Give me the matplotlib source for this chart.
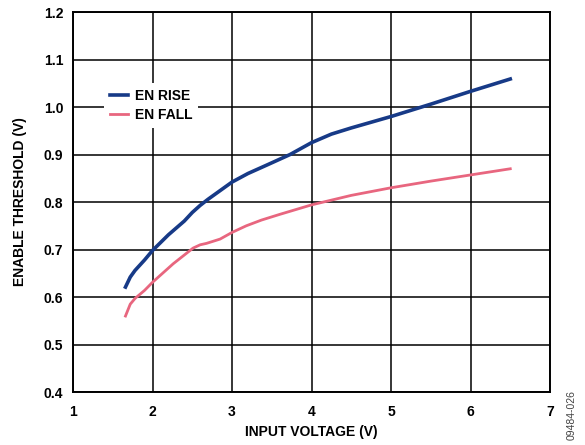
import matplotlib
matplotlib.use("Agg")
import matplotlib.pyplot as plt

plt.rcParams['font.family'] = ['Liberation Sans', 'DejaVu Sans']
plt.rcParams['font.weight'] = 'bold'

# EN RISE / EN FALL threshold vs input voltage
rise_v = [1.66, 1.72, 1.78, 1.9, 2.0, 2.2, 2.4, 2.5, 2.6, 2.7, 2.8, 3.0, 3.2, 3.44, 3.73, 4.0, 4.25, 4.5, 4.75, 5.0, 5.5, 6.0, 6.5]
rise_th = [0.621, 0.642, 0.656, 0.678, 0.698, 0.731, 0.760, 0.778, 0.793, 0.806, 0.818, 0.842, 0.860, 0.878, 0.900, 0.925, 0.943, 0.956, 0.968, 0.980, 1.006, 1.033, 1.059]
fall_v = [1.66, 1.72, 1.78, 1.9, 2.0, 2.26, 2.51, 2.6, 2.68, 2.85, 3.0, 3.18, 3.37, 3.6, 3.86, 4.0, 4.5, 5.0, 5.5, 6.0, 6.5]
fall_th = [0.560, 0.585, 0.597, 0.614, 0.631, 0.670, 0.703, 0.710, 0.713, 0.722, 0.736, 0.750, 0.762, 0.774, 0.787, 0.794, 0.814, 0.830, 0.844, 0.857, 0.870]

x_ticks = [1, 2, 3, 4, 5, 6, 7]
y_ticks = [0.4, 0.5, 0.6, 0.7, 0.8, 0.9, 1.0, 1.1, 1.2]

fig = plt.figure(figsize=(5.85, 4.45), dpi=100)
ax = fig.add_axes([0.1248, 0.119, 0.8154, 0.854])

ax.plot(rise_v, rise_th, color='#173a87', lw=2.6, label='EN RISE', zorder=3)
ax.plot(fall_v, fall_th, color='#e8667f', lw=2.0, label='EN FALL', zorder=3)

ax.set_xlim(1, 7)
ax.set_ylim(0.4, 1.2)
ax.set_xticks(x_ticks)
ax.set_yticks(y_ticks)
ax.set_xticklabels([str(t) for t in x_ticks])
ax.set_yticklabels(['%.1f' % t for t in y_ticks])
ax.tick_params(axis='x', length=0, labelsize=10, pad=9)
ax.tick_params(axis='y', length=0, labelsize=10, pad=7)
ax.grid(True, color='black', lw=1.1)
ax.set_axisbelow(True)
for s in ax.spines.values():
    s.set_linewidth(1.4)

ax.set_xlabel('INPUT VOLTAGE (V)', fontsize=10, fontweight='bold', labelpad=5)
ax.set_ylabel('ENABLE THRESHOLD (V)', fontsize=10, fontweight='bold', labelpad=12)

leg = ax.legend(loc='upper left', bbox_to_anchor=(0.065, 0.813), borderaxespad=0,
                frameon=True, fancybox=False, edgecolor='none', framealpha=1,
                fontsize=10, handlelength=1.3, handletextpad=0.5, labelspacing=0.4,
                borderpad=0.4)
for t in leg.get_texts():
    t.set_fontweight('bold')

fig.text(0.977, 0.011, '09484-026', rotation=90, fontsize=7.5, color='#444444',
         fontweight='normal', ha='center', va='bottom')

fig.savefig('out.png', dpi=100)
